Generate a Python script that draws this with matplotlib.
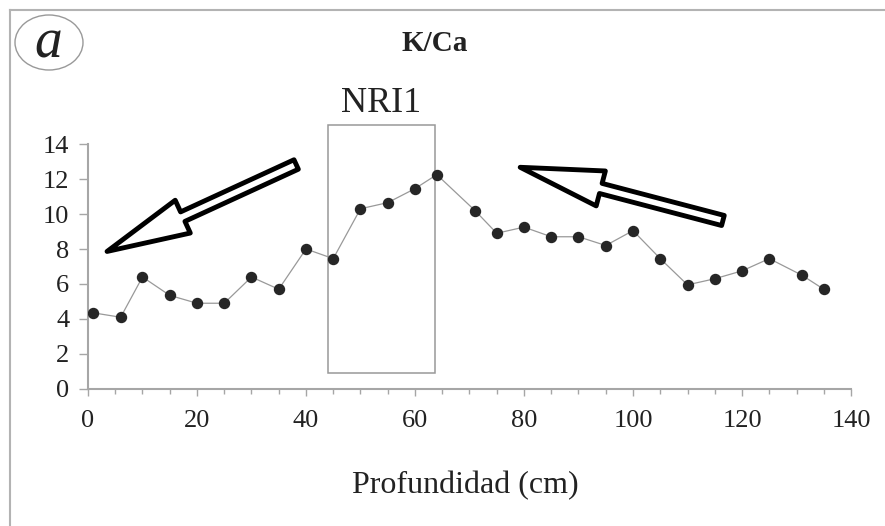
import matplotlib
matplotlib.use("Agg")
import matplotlib.pyplot as plt
from matplotlib.patches import Rectangle, Ellipse
from matplotlib.lines import Line2D
from matplotlib.ticker import MultipleLocator

# ---- data ----
depth = [1, 6, 10, 15, 20, 25, 30, 35, 40, 45, 50, 55, 60, 64, 71, 75, 80,
         85, 90, 95, 100, 105, 110, 115, 120, 125, 131, 135]
k_ca = [4.35, 4.1, 6.4, 5.35, 4.9, 4.9, 6.4, 5.7, 8.0, 7.45, 10.3, 10.65,
        11.45, 12.25, 10.2, 8.9, 9.25, 8.7, 8.7, 8.2, 9.05, 7.45, 5.95,
        6.3, 6.75, 7.45, 6.5, 5.7]
x_ticks = [0, 20, 40, 60, 80, 100, 120, 140]
y_ticks = [0, 2, 4, 6, 8, 10, 12, 14]
title = "K/Ca"
xlabel = "Profundidad (cm)"
zone_label = "NRI1"
zone_x = (44, 63.7)
zone_y = (0.9, 15.1)

plt.rcParams['font.family'] = ['Liberation Serif', 'DejaVu Serif']

W, H = 885, 526
fig = plt.figure(figsize=(W / 100, H / 100), dpi=100)
fig.patch.set_facecolor('white')
ax = fig.add_axes([0.0994, 0.2605, 0.8622, 0.4657])

axis_grey = '#a6a6a6'
ax.plot(depth, k_ca, color='#999999', lw=0.9, marker='o', ms=7.2,
        mfc='#262626', mec='#262626', zorder=3)

ax.set_xlim(0, 140)
ax.set_ylim(0, 14)
ax.set_xticks(x_ticks)
ax.set_yticks(y_ticks)
ax.xaxis.set_minor_locator(MultipleLocator(5))
for s in ['top', 'right']:
    ax.spines[s].set_visible(False)
for s in ['left', 'bottom']:
    ax.spines[s].set_color(axis_grey)
    ax.spines[s].set_linewidth(1.5)
ax.tick_params(axis='y', which='major', direction='out', length=6.5, width=1.0,
               color=axis_grey, labelsize=19, labelcolor='#222222', pad=7)
ax.tick_params(axis='x', which='major', direction='out', length=5, width=1.0,
               color=axis_grey, labelsize=19, labelcolor='#222222', pad=10)
ax.tick_params(axis='x', which='minor', direction='out', length=3.5, width=1.0,
               color=axis_grey)
ax.set_facecolor('none')

# x-axis label
fig.text(465 / W, 1 - 493 / H, xlabel, ha='center', va='baseline',
         fontsize=23, color='#222222')

# NRI1 zone box
ax.add_patch(Rectangle((zone_x[0], zone_y[0]), zone_x[1] - zone_x[0],
                       zone_y[1] - zone_y[0], fill=False, ec='#999999',
                       lw=1.1, clip_on=False, zorder=2))
ax.text((zone_x[0] + zone_x[1]) / 2, zone_y[1] + 0.25, zone_label,
        ha='center', va='bottom', fontsize=26, color='#222222')

# block arrows (outlined)
arrow_kw = dict(arrowstyle='simple,head_length=6.0,head_width=2.6,tail_width=0.75',
                fc='white', ec='black', lw=3.5, shrinkA=0, shrinkB=0,
                mutation_scale=10)
ax.annotate('', xy=(3.5, 7.86), xytext=(38.2, 12.83),
            arrowprops=arrow_kw, annotation_clip=False)
ax.annotate('', xy=(79.3, 12.67), xytext=(116.5, 9.63),
            arrowprops=arrow_kw, annotation_clip=False)

# title
fig.text(435 / W, 1 - 51 / H, title, ha='center', va='baseline', fontsize=21,
         fontweight='bold', color='#222222')

# panel letter in ellipse
ell = Ellipse((49 / W, 1 - 42.5 / H), 68 / W, 55 / H,
              transform=fig.transFigure, fill=False, ec='#999999', lw=1.0)
fig.add_artist(ell)
fig.text(48 / W, 1 - 44 / H, 'a', ha='center', va='center', fontsize=40,
         style='italic', color='#222222')

# partial frame (top and left edges)
fig.add_artist(Line2D([9.5 / W, 1], [1 - 9.5 / H, 1 - 9.5 / H],
                      transform=fig.transFigure, color='#b3b3b3', lw=1.5))
fig.add_artist(Line2D([9.5 / W, 9.5 / W], [0, 1 - 9.5 / H],
                      transform=fig.transFigure, color='#b3b3b3', lw=1.5))

fig.savefig('out.png', dpi=100)
